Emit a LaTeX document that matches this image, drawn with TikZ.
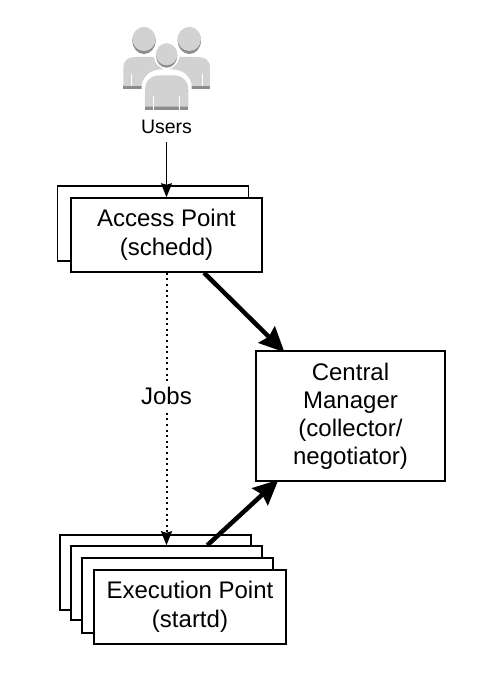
\documentclass[tikz,border=0pt]{standalone}
\usepackage{fontspec}
\setmainfont{Liberation Sans}
\usetikzlibrary{arrows.meta,calc}
\definecolor{iconlight}{HTML}{D2D2D2}
\definecolor{icondark}{HTML}{8C8C8C}
\tikzset{
  box/.style={draw=black,line width=1.5pt,fill=white,inner sep=0pt,align=center,font=\fontsize{24}{28.5}\selectfont},
  thin arrow/.style={line width=1.5pt,-{Stealth[inset=1.5pt,length=14pt,width=11pt]}},
  jobs arrow/.style={line width=2pt,dash pattern=on 2pt off 3.6pt,-{Stealth[inset=1.5pt,length=14pt,width=11pt]}},
  heavy arrow/.style={line width=4.5pt,-{Stealth[inset=3pt,length=25pt,width=23pt]}},
  label text/.style={inner sep=0pt,font=\fontsize{24}{28.5}\selectfont},
}
\begin{document}
\begin{tikzpicture}[x=1pt,y=-1pt]
\useasboundingbox (0,0) rectangle (497,681);
% icon
\begin{scope}[shift={(100,10)},x=0.3333pt,y=-0.3333pt]
  \foreach \mx/\sx in {0/1,400/-1}{
    \begin{scope}[shift={(\mx,0)},xscale=\sx]
      \fill[icondark] (70,226) -- (130,226) -- (130,236) -- (70,236) -- cycle;
      \fill[iconlight] (70,228) -- (70,175) .. controls (70,150) and (85,141) .. (105,141) -- (190,141) -- (190,178)
        .. controls (150,178) and (130,195) .. (128,228) -- cycle;
      \fill[icondark] (132,92) ellipse (35 and 40);
      \fill[iconlight] (132,87) ellipse (35 and 36);
      \fill[white] (92,192) rectangle (95,228);
    \end{scope}
  }
  \fill[white] (125,240) -- (125,225) .. controls (130,195) and (155,183) .. (195,183) -- (205,183)
    .. controls (245,183) and (270,195) .. (275,225) -- (275,240) -- cycle;
  \fill[white] (200,135) ellipse (38 and 43);
  \fill[icondark] (135,289) rectangle (265,301);
  \fill[iconlight] (135,290) -- (135,240) .. controls (135,210) and (155,196) .. (180,196) -- (220,196)
    .. controls (245,196) and (265,210) .. (265,240) -- (265,290) -- cycle;
  \fill[white] (158,258) rectangle (161,301);
  \fill[white] (238,258) rectangle (241,301);
  \fill[icondark] (200,137) ellipse (32 and 36);
  \fill[iconlight] (200,133) ellipse (32 and 33);
\end{scope}
\node[label text] (users) at (166.5,127) {\fontsize{19.5}{24}\selectfont Users};
% access point
\node[box,minimum width=191pt,minimum height=75pt] (apback) at (153,223.5) {};
\node[box,minimum width=191pt,minimum height=74pt] (ap) at (166.5,235) {\raisebox{-1pt}{Access Point}\\\raisebox{-1pt}{(schedd)}};
% central manager
\node[box,minimum width=189pt,minimum height=130pt] (cm) at (350.5,416) {\raisebox{-1.5pt}{Central}\\\raisebox{-1.5pt}{Manager}\\\raisebox{-1pt}{(collector/}\\\raisebox{0pt}{negotiator)}};
% execution point
\node[box,minimum width=191pt,minimum height=75pt] (epa) at (155.5,572.5) {};
\node[box,minimum width=191pt,minimum height=74pt] (epb) at (166.5,583) {};
\node[box,minimum width=191pt,minimum height=75pt] (epc) at (177.5,595.5) {};
\node[box,minimum width=192pt,minimum height=74pt] (epd) at (190,607) {Execution Point\\(startd)};
% connectors
\draw[thin arrow] ([yshift=-8pt]users.south) -- (ap.north);
\draw[jobs arrow] (ap.south) -- (epb.north) node[pos=0.452,fill=white,label text,inner ysep=6pt,inner xsep=3pt] (jobs) {Jobs};
\draw[heavy arrow] ($(ap.south west)!0.695!(ap.south east)$) -- ([xshift=2pt,yshift=-2pt]$(cm.north west)!0.143!(cm.north east)$);
\draw[heavy arrow] ($(epb.north west)!0.712!(epb.north east)$) -- ([xshift=3pt,yshift=2pt]$(cm.south west)!0.106!(cm.south east)$);
\end{tikzpicture}
\end{document}
